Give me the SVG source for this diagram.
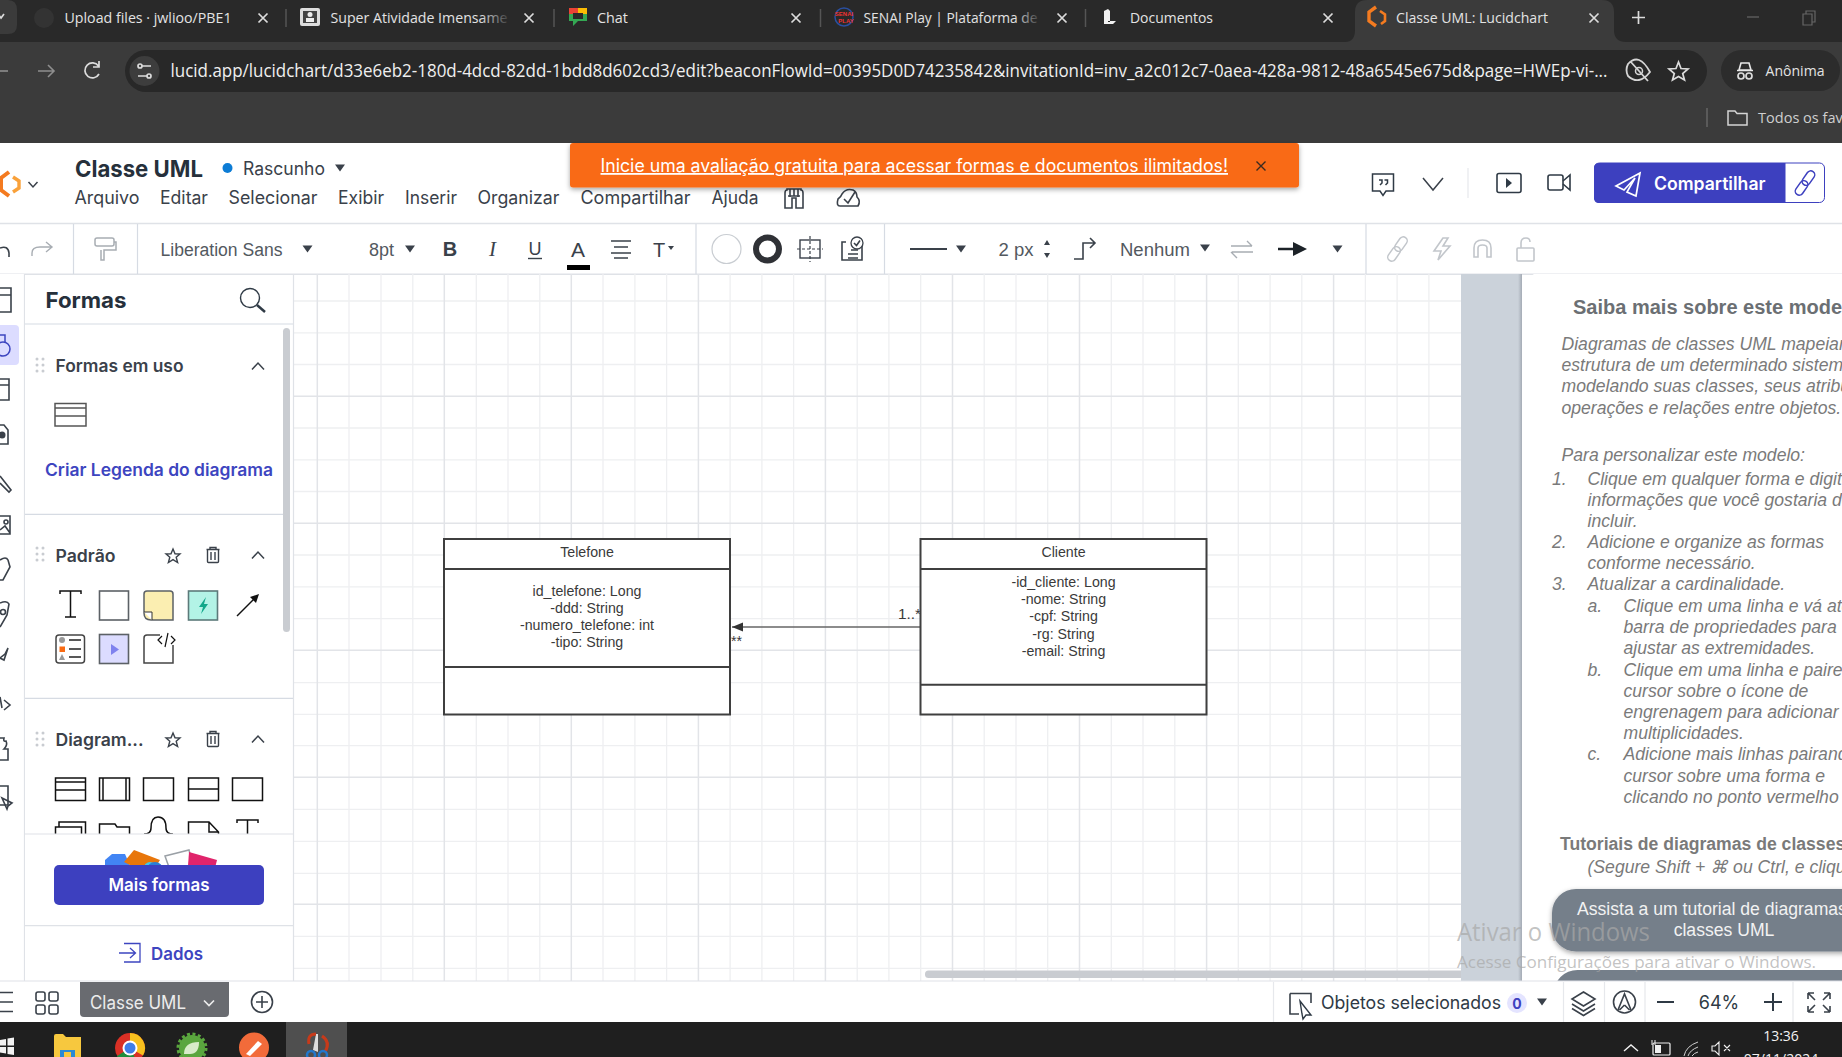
<svg xmlns="http://www.w3.org/2000/svg" width="1842" height="1057" viewBox="0 0 1842 1057">
<style>
.chrome{font-family:"Open Sans","Noto Sans",sans-serif;font-size:14.5px;fill:#e3e3e3}
.ui{font-family:"Inter","Lato",sans-serif;fill:#3a414a;font-size:17px}
.tb{font-family:"Liberation Sans",sans-serif;fill:#53595f;font-size:18px}
.b{font-weight:600}
.uml{font-family:"Liberation Sans",sans-serif;font-size:14.2px;fill:#3a3a3a;text-anchor:middle}
.box{fill:#fff;stroke:#3f3f3f;stroke-width:2}
.sep{stroke:#3f3f3f;stroke-width:2;fill:none}
.p{font-family:"Liberation Sans",sans-serif;font-size:17.6px;font-style:italic;fill:#7a7a7a}
.minor{stroke:#eeeff1;stroke-width:1.3}
.major{stroke:#e2e4e8;stroke-width:1.5}
.ic{fill:none;stroke:#3a414a;stroke-width:1.6}
.icd{fill:none;stroke:#c2c6cb;stroke-width:1.6}
.tri{fill:#3a414a}
.div{stroke:#d6dbe3;stroke-width:1.2}
.mono{fill:none;stroke:#111;stroke-width:1.5}
.x{fill:none;stroke:#dcdcdc;stroke-width:1.7}
</style>
<defs>
<marker id="arrow" markerUnits="userSpaceOnUse" markerWidth="12" markerHeight="10" refX="11" refY="4.5" orient="auto"><path d="M0 0L11 4.5L0 9z" fill="#333"/></marker>
<path id="xm" d="M-4.5-4.5L4.5 4.5M4.5-4.5L-4.5 4.5"/>
<path id="dn" d="M-5-3.5H5L0 3.5z"/>
<path id="chev" d="M-6 3.5L0-3L6 3.5" fill="none" stroke="#3a414a" stroke-width="1.5"/>
<g id="grip" fill="#c9ccd1"><circle cx="0" cy="0" r="1.5"/><circle cx="6" cy="0" r="1.5"/><circle cx="0" cy="6" r="1.5"/><circle cx="6" cy="6" r="1.5"/><circle cx="0" cy="12" r="1.5"/><circle cx="6" cy="12" r="1.5"/></g>
<path id="star" d="M0-7L2 -2.2L7-2L3.2 1.3L4.6 6.5L0 3.6L-4.6 6.5L-3.2 1.3L-7-2L-2-2.2z" fill="none" stroke="#3a414a" stroke-width="1.4"/>
<g id="trash" fill="none" stroke="#3a414a" stroke-width="1.4"><path d="M-6.5-5.5H6.5M-5.5-5.5V6.5Q-5.5 7.5-4.5 7.5H4.5Q5.5 7.5 5.5 6.5V-5.5M-3-5.5V-7.5H3V-5.5M-2-3V5M2-3V5"/></g>
<g id="link" fill="none"><rect x="-4" y="-14" width="8" height="16" rx="4"/><rect x="-4" y="-2" width="8" height="16" rx="4"/></g>
<linearGradient id="fade" gradientUnits="userSpaceOnUse" x1="480" x2="507" y1="0" y2="0"><stop offset="0" stop-color="#e3e3e3"/><stop offset="1" stop-color="#e3e3e3" stop-opacity=".15"/></linearGradient>
<linearGradient id="fade2" gradientUnits="userSpaceOnUse" x1="1015" x2="1038" y1="0" y2="0"><stop offset="0" stop-color="#e3e3e3"/><stop offset="1" stop-color="#e3e3e3" stop-opacity=".15"/></linearGradient>
<linearGradient id="edge" x1="0" x2="1" y1="0" y2="0"><stop offset="0" stop-color="#cbd2da"/><stop offset="1" stop-color="#a4abb5"/></linearGradient>
<clipPath id="shapes"><rect x="25" y="700" width="260" height="134"/></clipPath>
<clipPath id="more"><rect x="80" y="840" width="180" height="25"/></clipPath>
<clipPath id="canvasR"><rect x="1522" y="274" width="320" height="707"/></clipPath>
<filter id="sh" x="-5%" y="-20%" width="110%" height="150%"><feDropShadow dx="0" dy="2" stdDeviation="2.5" flood-color="#000" flood-opacity=".35"/></filter>
</defs>

<rect width="1842" height="1057" fill="#fff"/>

<g id="browser-chrome">
<rect width="1842" height="42" fill="#292929"/>
<rect y="42" width="1842" height="101" fill="#3b3b3b"/>
<path d="M0 0H8Q17 0 17 10V25Q17 34 8 34H0z" fill="#3b3b3b"/>
<path d="M-2 14L1 18L4 14" class="x"/>
<path d="M1345 42Q1355 42 1355 30V12Q1355 0 1367 0H1602Q1614 0 1614 12V30Q1614 42 1626 42z" fill="#3b3b3b"/>
<circle cx="44" cy="18" r="10" fill="#333"/>
<text class="chrome" x="64.5" y="23" textLength="167" lengthAdjust="spacingAndGlyphs">Upload files · jwlioo/PBE1</text>
<use href="#xm" x="263" y="18" class="x"/>
<line x1="286" x2="286" y1="9" y2="27" stroke="#555" stroke-width="1.5"/>
<rect x="300" y="8" width="20" height="18" rx="2" fill="#ddd"/><rect x="303" y="11" width="14" height="12" fill="#444"/><circle cx="310" cy="14.5" r="2.5" fill="#eee"/><rect x="306" y="18" width="8" height="4" fill="#eee"/>
<text class="chrome" x="330.5" y="23" textLength="177" lengthAdjust="spacingAndGlyphs" style="fill:url(#fade)">Super Atividade Imensame</text>
<use href="#xm" x="529" y="18" class="x"/>
<line x1="554" x2="554" y1="9" y2="27" stroke="#555" stroke-width="1.5"/>
<path d="M569 8H587V21H578L573 26V21H569z" fill="#34a853"/><rect x="569" y="8" width="9" height="6" fill="#ea4335"/><rect x="578" y="8" width="9" height="6" fill="#fbbc04"/><rect x="573" y="13" width="10" height="6" fill="#292929"/>
<text class="chrome" x="597" y="23" textLength="31" lengthAdjust="spacingAndGlyphs">Chat</text>
<use href="#xm" x="796" y="18" class="x"/>
<line x1="820.5" x2="820.5" y1="9" y2="27" stroke="#555" stroke-width="1.5"/>
<circle cx="844" cy="17" r="9" fill="none" stroke="#2a4fa0" stroke-width="1.5"/><text x="844" y="16" font-family="Liberation Sans,sans-serif" font-size="6" font-weight="700" fill="#e33" text-anchor="middle">SENAI</text><text x="846" y="23" font-family="Liberation Sans,sans-serif" font-size="6" font-weight="700" fill="#e33" text-anchor="middle">PLAY</text>
<text class="chrome" x="863.5" y="23" textLength="174" lengthAdjust="spacingAndGlyphs" style="fill:url(#fade2)">SENAI Play | Plataforma de</text>
<use href="#xm" x="1062" y="18" class="x"/>
<line x1="1085.5" x2="1085.5" y1="9" y2="27" stroke="#555" stroke-width="1.5"/>
<path d="M1104 11L1108 9V22H1110V11L1108 9V21H1116L1113 24H1104z" fill="#f1f1f1"/>
<text class="chrome" x="1130" y="23" textLength="83" lengthAdjust="spacingAndGlyphs">Documentos</text>
<use href="#xm" x="1328" y="18" class="x"/>
<path d="M1376 7L1369 12V21L1376 26" fill="none" stroke="#f47b20" stroke-width="3.4"/><path d="M1380 11L1385 14.500V21L1381 24" fill="none" stroke="#f47b20" stroke-width="2.600"/>
<text class="chrome" x="1396" y="23" textLength="152" lengthAdjust="spacingAndGlyphs">Classe UML: Lucidchart</text>
<use href="#xm" x="1594" y="18" class="x"/>
<path d="M1638.5 11V24M1632 17.5H1645" class="x"/>
<path d="M1747 17H1759" stroke="#666" stroke-width="1.2"/>
<path d="M1803 14V25H1812V14zM1806 14V11H1815V22H1812" fill="none" stroke="#666" stroke-width="1.2"/>

<path d="M8 71H-2M0 71" fill="none" stroke="#8e8e8e" stroke-width="1.6"/>
<path d="M38 71H54M48 65L54 71L48 77" fill="none" stroke="#8e8e8e" stroke-width="1.6"/>
<path d="M98.5 66A7.5 7.5 0 1 0 99 74M99 61V67H93" fill="none" stroke="#dcdcdc" stroke-width="1.7"/>
<rect x="125" y="50" width="1582" height="42" rx="21" fill="#282828"/>
<circle cx="144.500" cy="71" r="15" fill="#3d3d3d"/>
<path d="M142 66H151M138 76H147" stroke="#ddd" stroke-width="1.6"/><circle cx="140" cy="66" r="2" class="x"/><circle cx="149" cy="76" r="2" class="x"/>
<text x="170.500" y="77" font-family="Open Sans,Noto Sans,sans-serif" font-size="18" fill="#efefef" textLength="1437" lengthAdjust="spacingAndGlyphs">lucid.app/lucidchart/d33e6eb2-180d-4dcd-82dd-1bdd8d602cd3/edit?beaconFlowId=00395D0D74235842&amp;invitationId=inv_a2c012c7-0aea-428a-9812-48a6545e675d&amp;page=HWEp-vi-...</text>
<path d="M1628 64Q1639 52 1650 72Q1639 86 1628 76Q1625 70 1628 64zM1630 61L1648 81" fill="none" stroke="#d5d5d5" stroke-width="1.8"/><circle cx="1639" cy="71" r="3.500" fill="none" stroke="#d5d5d5" stroke-width="1.500"/>
<path d="M1678.500 62L1681 68.500L1688 69L1682.700 73.500L1684.500 80L1678.500 76.500L1672.500 80L1674.300 73.500L1669 69L1676 68.500z" fill="none" stroke="#dcdcdc" stroke-width="1.700"/>
<rect x="1721" y="50" width="119" height="41" rx="20.500" fill="#2c2c2c"/>
<path d="M1741 63H1749L1751 70H1739zM1737 70.500H1753" fill="none" stroke="#e8e8e8" stroke-width="1.600"/><circle cx="1741" cy="76" r="3" class="x"/><circle cx="1749" cy="76" r="3" class="x"/>
<text class="chrome" x="1765.500" y="75.500" textLength="59" lengthAdjust="spacingAndGlyphs">Anônima</text>
<line x1="1707" x2="1707" y1="108" y2="127" stroke="#666" stroke-width="1.500"/>
<path d="M1728 111H1735L1737 113.500H1747V125H1728z" fill="none" stroke="#d5d5d5" stroke-width="1.500"/>
<text class="chrome" x="1758" y="122.500" textLength="124" lengthAdjust="spacingAndGlyphs" style="fill:#cfcfcf">Todos os favoritos</text>
</g>

<g id="app-header">
<path d="M9 172L1 178V190L9 196" fill="none" stroke="#f47b20" stroke-width="4"/><path d="M13 177L19 181V188L13 192" fill="none" stroke="#f9a13a" stroke-width="3.400"/>
<path d="M28.500 182L33 187L37.500 182" fill="none" stroke="#3a414a" stroke-width="1.500"/>
<text class="ui" font-weight="700" x="75" y="177" style="font-size:23px;fill:#26303b" textLength="128" lengthAdjust="spacingAndGlyphs">Classe UML</text>
<circle cx="227.500" cy="168" r="5" fill="#0c7cd5"/>
<text class="ui" x="243" y="175" style="font-size:18px" textLength="82" lengthAdjust="spacingAndGlyphs">Rascunho</text>
<use href="#dn" x="340" y="168" class="tri"/>
<g class="ui" style="font-size:18px">
<text x="74.500" y="204" textLength="65" lengthAdjust="spacingAndGlyphs">Arquivo</text>
<text x="160" y="204" textLength="48" lengthAdjust="spacingAndGlyphs">Editar</text>
<text x="228.500" y="204" textLength="89" lengthAdjust="spacingAndGlyphs">Selecionar</text>
<text x="338" y="204" textLength="46" lengthAdjust="spacingAndGlyphs">Exibir</text>
<text x="405" y="204" textLength="52" lengthAdjust="spacingAndGlyphs">Inserir</text>
<text x="477.500" y="204" textLength="82" lengthAdjust="spacingAndGlyphs">Organizar</text>
<text x="580.500" y="204" textLength="110" lengthAdjust="spacingAndGlyphs">Compartilhar</text>
<text x="711.500" y="204" textLength="47" lengthAdjust="spacingAndGlyphs">Ajuda</text>
</g>
<path d="M785 208V193Q785 190 787 190V189H801V190Q803 190 803 193V208H796V198H792V208zM788 196H800M790 189V197M794 189V196M798 189V197" class="ic" stroke-width="1.300"/>
<path d="M840 206Q836 206 838 199Q841 197 842 194Q846 188 853 190Q857 192 857 197Q861 201 858 206zM844 199L848 203L855 192" class="ic"/>
<rect x="570" y="143" width="729" height="44.500" rx="3" fill="#f96b13" filter="url(#sh)"/>
<text x="600.500" y="172" font-family="Inter,Lato,sans-serif" font-size="18" fill="#fff" text-decoration="underline" textLength="627.500" lengthAdjust="spacingAndGlyphs">Inicie uma avaliação gratuita para acessar formas e documentos ilimitados!</text>
<use href="#xm" x="1261" y="166" style="fill:none;stroke:#3a2a20;stroke-width:1.400"/>
<path d="M1372.500 174H1393.500V191H1386L1383 195.500L1380 191H1372.500z" fill="none" stroke="#2f3a45" stroke-width="1.500"/>
<path d="M1379 180H1382V183L1380 185M1384.500 180H1387.500V183L1385.500 185" fill="none" stroke="#2f3a45" stroke-width="1.500"/>
<path d="M1423 178L1433 190L1443 178" fill="none" stroke="#3a414a" stroke-width="1.500"/>
<line x1="1468" x2="1468" y1="168" y2="198" stroke="#e6e8ec" stroke-width="1.200"/>
<rect x="1497" y="173.500" width="24" height="19" rx="2" fill="none" stroke="#2f3a45" stroke-width="1.600"/><path d="M1506 178L1512 183L1506 188z" fill="#2f3a45"/>
<rect x="1548" y="175" width="15" height="15" rx="2" fill="none" stroke="#2f3a45" stroke-width="1.600"/><path d="M1563 181L1570 175V190L1563 184" fill="none" stroke="#2f3a45" stroke-width="1.600"/>
<rect x="1594.500" y="163" width="230" height="39.500" rx="5" fill="#fff" stroke="#3d40bf"/>
<path d="M1785.500 163H1599Q1594 163 1594 168V198Q1594 203 1599 203H1785.500z" fill="#3d40bf"/>
<path d="M1640 173L1616 186L1624 190L1635 178L1627 192L1636 196z" fill="none" stroke="#fff" stroke-width="1.700"/>
<text x="1654" y="189.500" font-family="Inter,Lato,sans-serif" font-size="18" font-weight="600" fill="#fff" textLength="111.500" lengthAdjust="spacingAndGlyphs">Compartilhar</text>
<use href="#link" transform="translate(1805 183) rotate(35)" stroke="#3d40bf" stroke-width="1.500"/>
</g>

<g id="format-toolbar">
<line x1="0" x2="1842" y1="223.500" y2="223.500" stroke="#dfe2e7" stroke-width="1.500"/>
<line x1="0" x2="1842" y1="274.300" y2="274.300" stroke="#dfe2e7" stroke-width="1.500"/>
<line x1="73.500" x2="73.500" y1="224" y2="274" class="div"/>
<line x1="137.500" x2="137.500" y1="224" y2="274" class="div"/>
<line x1="696" x2="696" y1="224" y2="274" class="div"/>
<line x1="884.500" x2="884.500" y1="224" y2="274" class="div"/>
<line x1="1366" x2="1366" y1="224" y2="274" class="div"/>
<path d="M0 248Q8 245 9 253V257" class="ic" stroke-width="1.300"/>
<path d="M32 256V253Q32 247 40 247H51M46 242L52 247L46 252" fill="none" stroke="#a8adb3" stroke-width="1.400"/>
<rect x="95" y="238" width="19" height="8" rx="2" fill="none" stroke="#a8adb3" stroke-width="1.500"/><path d="M114 242H116V250H104V260H101V250" fill="none" stroke="#a8adb3" stroke-width="1.500"/>
<text class="tb" x="160.500" y="255.500" textLength="122" lengthAdjust="spacingAndGlyphs">Liberation Sans</text>
<use href="#dn" x="307.500" y="249" class="tri"/>
<text class="tb" x="369" y="255.500">8pt</text>
<use href="#dn" x="410" y="249" class="tri"/>
<text x="450" y="256" font-family="Liberation Sans,sans-serif" font-size="20" font-weight="700" fill="#3a414a" text-anchor="middle">B</text>
<text x="492.500" y="256" font-family="Liberation Serif,serif" font-size="21" font-style="italic" fill="#3a414a" text-anchor="middle">I</text>
<text x="535" y="255" font-family="Liberation Sans,sans-serif" font-size="18" fill="#3a414a" text-anchor="middle">U</text><line x1="528" x2="542" y1="258.500" y2="258.500" stroke="#3a414a" stroke-width="1.400"/>
<text x="578" y="257" font-family="Liberation Sans,sans-serif" font-size="21" fill="#3a414a" text-anchor="middle">A</text><rect x="567" y="265" width="23" height="5" fill="#000"/>
<path d="M611 241H631M614 247H628M611 253H631M614 258H628" class="ic" stroke-width="1.500"/>
<text x="659" y="257" font-family="Liberation Sans,sans-serif" font-size="20" fill="#3a414a" text-anchor="middle">T</text><path d="M668 246H674L671 250z" fill="#3a414a"/>
<circle cx="726.500" cy="249" r="14.500" fill="#fff" stroke="#c9cdd2" stroke-width="1.200"/>
<circle cx="767.500" cy="249" r="11.500" fill="#fff" stroke="#2f3136" stroke-width="6"/>
<rect x="800" y="240" width="20" height="18" fill="none" stroke="#3a414a" stroke-width="1.400"/><path d="M810 236V262M797 249H823" stroke="#3a414a" stroke-width="1.200" stroke-dasharray="3 2" fill="none"/>
<path d="M846 242H842V260H862V244M851 250H858M848 254H858M848 258H858" class="ic" stroke-width="1.400"/><circle cx="857" cy="243" r="6" fill="#fff" stroke="#3a414a" stroke-width="1.300"/><path d="M854 243L856.500 245.500L860 240.500" class="ic" stroke-width="1.200"/>
<line x1="910" x2="947" y1="249" y2="249" stroke="#3a414a" stroke-width="2"/>
<use href="#dn" x="961" y="249" class="tri"/>
<text class="tb" x="998.500" y="255.500" textLength="35" lengthAdjust="spacingAndGlyphs">2 px</text>
<path d="M1047 240L1050 245H1044zM1047 258L1050 253H1044z" fill="#3a414a"/>
<path d="M1074 259H1083V243H1094M1090 238L1095 243L1090 248" class="ic" stroke-width="1.500"/>
<text class="tb" x="1120" y="255.500" textLength="70" lengthAdjust="spacingAndGlyphs">Nenhum</text>
<use href="#dn" x="1205" y="248" class="tri"/>
<path d="M1231 246H1252M1247 241L1252 246M1253 252H1232M1237 258L1231 252" fill="none" stroke="#a8adb3" stroke-width="1.400"/>
<path d="M1278 249H1297" stroke="#1c2228" stroke-width="2.500"/><path d="M1293 242L1307 249L1293 256z" fill="#1c2228"/>
<use href="#dn" x="1337.500" y="249" class="tri"/>
<use href="#link" transform="translate(1397.500 249) rotate(35)" stroke="#c2c6cb" stroke-width="1.500"/>
<path d="M1443 238L1434 251H1441L1438 260L1450 246H1443L1448 238z" class="icd"/>
<path d="M1474 257V248Q1474 240 1482.500 240Q1491 240 1491 248V257H1487V248Q1487 245 1482.500 245Q1478 245 1478 248V257z" class="icd"/>
<rect x="1517" y="248" width="17" height="13" rx="1" class="icd"/><path d="M1521 248V243Q1521 238 1526 238Q1530 238 1530 242" class="icd"/>
</g>

<g id="canvas">
<g class="minor">
<path d="M349 274V981M381 274V981M412.800 274V981M476.300 274V981M508 274V981M539.800 274V981M603 274V981M634.900 274V981M666.600 274V981M730.100 274V981M761.900 274V981M793.600 274V981M857.200 274V981M888.900 274V981M920.700 274V981M984.200 274V981M1016 274V981M1047.700 274V981M1111.300 274V981M1143 274V981M1174.800 274V981M1238.300 274V981M1270.100 274V981M1301.800 274V981M1365.400 274V981M1397.100 274V981M1428.900 274V981"/>
<path d="M294 332.800H1461M294 364.500H1461M294 428H1461M294 459.800H1461M294 491.500H1461M294 555H1461M294 586.800H1461M294 618.600H1461M294 682.700H1461M294 714.300H1461M294 745.700H1461M294 809.300H1461M294 841.300H1461M294 873.300H1461M294 936.300H1461M294 968.300H1461M294 301H1461"/>
</g>
<g class="major">
<path d="M317.300 274V981M444.300 274V981M571.300 274V981M698.400 274V981M825.400 274V981M952.500 274V981M1079.500 274V981M1206.600 274V981M1333.600 274V981"/>
<path d="M294 396.200H1461M294 523.300H1461M294 650.300H1461M294 777.300H1461M294 904.300H1461"/>
</g>
<rect x="925" y="970.500" width="554" height="7.500" rx="3.500" fill="#c9ccd1"/>
</g>

<g id="connectors">
<line x1="920" y1="627" x2="732" y2="627" stroke="#666" stroke-width="1.600" marker-end="url(#arrow)"/>
<text class="uml" x="898" y="618.500" style="text-anchor:start" textLength="23" lengthAdjust="spacingAndGlyphs">1..*</text>
<text class="uml" x="731" y="646" style="text-anchor:start">**</text>
</g>

<g id="node-telefone">
<rect class="box" x="444" y="539" width="286" height="175.500"/>
<path class="sep" d="M444 569H730M444 667H730"/>
<text class="uml" x="587" y="557">Telefone</text>
<text class="uml" x="587" y="596">id_telefone: Long</text>
<text class="uml" x="587" y="613">-ddd: String</text>
<text class="uml" x="587" y="630">-numero_telefone: int</text>
<text class="uml" x="587" y="647">-tipo: String</text>
</g>
<g id="node-cliente">
<rect class="box" x="920.500" y="539" width="286" height="175.500"/>
<path class="sep" d="M920.500 569H1206.500M920.500 684.700H1206.500"/>
<text class="uml" x="1063.500" y="557">Cliente</text>
<text class="uml" x="1063.500" y="587">-id_cliente: Long</text>
<text class="uml" x="1063.500" y="604">-nome: String</text>
<text class="uml" x="1063.500" y="621">-cpf: String</text>
<text class="uml" x="1063.500" y="638.500">-rg: String</text>
<text class="uml" x="1063.500" y="655.500">-email: String</text>
</g>

<g id="left-rail">
<rect x="0" y="274" width="24.500" height="707" fill="#fff"/>
<line x1="24.500" x2="24.500" y1="274" y2="981" stroke="#dfe2e7" stroke-width="1.200"/>
<path d="M0 288H11V312H0M0 295H11" class="ic"/>
<rect x="-5" y="325" width="24" height="40" rx="4" fill="#dcdcff"/>
<circle cx="3" cy="349" r="7" fill="none" stroke="#3d45c0" stroke-width="1.500"/><path d="M0 335H5V342" fill="none" stroke="#3d45c0" stroke-width="1.500"/>
<path d="M0 379H9V400H0M0 385H9" class="ic"/>
<path d="M0 425H4L8 430V444H0" class="ic"/><circle cx="2" cy="435" r="3.500" fill="#3a414a"/>
<path d="M0 476L11 490L9 492L0 483" class="ic"/>
<path d="M0 516H10V534H0M0 530L5 526L10 533" class="ic"/><circle cx="6" cy="522" r="2" class="ic"/>
<path d="M0 560Q6 556 8 560L10 567L3 580H0" class="ic"/>
<path d="M0 603Q7 600 9 604L7 615L0 627" class="ic"/><circle cx="3" cy="612" r="2.500" class="ic"/>
<path d="M0 658L5 654L8 648L4 660z" class="ic"/>
<path d="M4 700L10 705L4 710M0 697L2 708" class="ic"/>
<path d="M0 738H4Q3 742 6 741Q8 745 4 749H8V760H0" class="ic"/>
<path d="M0 786H8V805H0" class="ic"/><path d="M2 798L12 803L8 806L7 809z" class="ic"/>
</g>

<g id="shapes-panel">
<rect x="25" y="275" width="268" height="706" fill="#fff"/>
<line x1="293.500" x2="293.500" y1="274" y2="981" stroke="#dfe2e7" stroke-width="1.200"/>
<text class="ui" font-weight="700" x="45.500" y="308" style="font-size:22px;fill:#26303b" textLength="81" lengthAdjust="spacingAndGlyphs">Formas</text>
<circle cx="250" cy="298" r="9.500" fill="none" stroke="#2f3a45" stroke-width="1.400"/><path d="M257 305L265 312" stroke="#2f3a45" stroke-width="2.500"/>
<line x1="25" x2="293" y1="324" y2="324" class="div"/>
<rect x="283" y="328" width="7" height="304" rx="3.500" fill="#c9ccd1"/>

<use href="#grip" x="37" y="359"/>
<text class="ui b" x="55.500" y="372" textLength="128" lengthAdjust="spacingAndGlyphs">Formas em uso</text>
<use href="#chev" x="258" y="366"/>
<g><rect x="55" y="403.500" width="31" height="22.500" fill="#fff" stroke="#555" stroke-width="1.500"/><path d="M55 408H86M55 416H86" stroke="#555" stroke-width="1.500"/></g>
<text class="ui b" x="45" y="476" style="fill:#3d45c0" textLength="228" lengthAdjust="spacingAndGlyphs">Criar Legenda do diagrama</text>
<line x1="25" x2="283" y1="514.300" y2="514.300" class="div"/>

<use href="#grip" x="37" y="548"/>
<text class="ui b" x="55.500" y="561.700" textLength="60" lengthAdjust="spacingAndGlyphs">Padrão</text>
<use href="#star" x="173" y="556"/>
<use href="#trash" x="213" y="555"/>
<use href="#chev" x="258" y="555"/>
<path d="M60 594V591H81V594M70.500 591V617M65 617H76" class="mono" stroke-width="1.400"/>
<rect x="99.500" y="591" width="29" height="29" fill="#fff" stroke="#5c6166" stroke-width="1.600"/>
<path d="M147 591H170Q173 591 173 594V620H151Q144 620 144 613V594Q144 591 147 591z" fill="#fbeeb1" stroke="#5c6166" stroke-width="1.500"/><path d="M144 612H152V620" fill="#fff" stroke="#333" stroke-width="1"/>
<rect x="188.500" y="591" width="29" height="29" fill="#b3f3e6" stroke="#5c7a7a" stroke-width="1.600"/><path d="M206 597L199 607H203L201 614L208 604H204z" fill="#12a88a"/>
<path d="M237 616L256 597" stroke="#111" stroke-width="1.400"/><path d="M259 594L250 597L256 603z" fill="#111"/>
<rect x="56" y="635" width="28.500" height="28" rx="3" fill="#fff" stroke="#444" stroke-width="1.500"/><circle cx="62" cy="640" r="3" fill="#999"/><rect x="59.500" y="646.500" width="5.500" height="5.500" fill="#f96b13"/><path d="M59 660L62 654L65 660z" fill="#999"/><path d="M69 640H81M69 649H81M69 657H81" stroke="#222" stroke-width="1.300"/>
<rect x="99.500" y="634.500" width="29" height="29" fill="#dcdcff" stroke="#5c6166" stroke-width="1.600"/><path d="M111 644L119 649.500L111 655z" fill="#7f82ee"/>
<path d="M160 635H147Q144 635 144 638V663H173V645" fill="none" stroke="#444" stroke-width="1.500"/><path d="M162 636L158 640L162 644M171 636L175 640L171 644M168 633L165 647" fill="none" stroke="#111" stroke-width="1.200"/>
<line x1="25" x2="293" y1="698.300" y2="698.300" class="div"/>

<use href="#grip" x="37" y="733"/>
<text class="ui b" x="55.500" y="746" textLength="88" lengthAdjust="spacingAndGlyphs">Diagram...</text>
<use href="#star" x="173" y="740"/>
<use href="#trash" x="213" y="739"/>
<use href="#chev" x="258" y="739"/>
<g clip-path="url(#shapes)">
<rect x="55.500" y="778" width="30" height="22.500" class="mono"/><path d="M55.500 782H85.500M55.500 790H85.500" class="mono"/>
<rect x="99.500" y="778" width="30" height="22.500" class="mono"/><path d="M103 778V800.500M126 778V800.500" class="mono"/>
<rect x="143.500" y="778" width="30" height="22.500" class="mono"/>
<rect x="188.500" y="778" width="30" height="22.500" class="mono"/><path d="M188.500 789H218.500" class="mono"/>
<rect x="232.500" y="778" width="30" height="22.500" class="mono"/>
<rect x="55.500" y="827" width="26" height="22" class="mono"/><path d="M59 827V822H85.500V845H81.500" class="mono"/>
<path d="M99.500 827V824H115L117 827H129.500V850H99.500z" class="mono"/>
<path d="M144 834Q151 834 151 828Q151 817 158 817Q166 817 166 828Q166 834 173 834" class="mono"/>
<path d="M188.500 850V822H209L218.500 832V850M209 822V832H218.500" class="mono"/>
<path d="M237 823V820H258V823M247.500 820V840" class="mono"/>
</g>
<line x1="25" x2="293" y1="834" y2="834" stroke="#dfe2e7" stroke-width="1.200"/>
<g clip-path="url(#more)">
<path d="M105 860L112 854L125 854L132 870H105z" fill="#4285f4"/>
<path d="M124 862L134 850L160 860L150 875z" fill="#e8760a"/>
<circle cx="150" cy="868" r="6" fill="#3fc7ea"/><circle cx="155" cy="870" r="8" fill="#2a7fd6"/>
<path d="M165 856L189 850L194 870H170z" fill="#fff" stroke="#9aa0a6" stroke-width="1.500"/>
<path d="M189 852L217 860L212 880H187z" fill="#e0246b"/>
</g>
<rect x="54" y="865" width="210" height="40" rx="5" fill="#3d40bf"/>
<text x="159" y="891" font-family="Inter,Lato,sans-serif" font-size="17" font-weight="600" fill="#fff" text-anchor="middle" textLength="101" lengthAdjust="spacingAndGlyphs">Mais formas</text>
<line x1="25" x2="293" y1="925.700" y2="925.700" stroke="#dfe2e7" stroke-width="1.200"/>
<path d="M124 943.500H140V962H124M119 953H135M130 948L135.500 953L130 958" fill="none" stroke="#3d45c0" stroke-width="1.300"/>
<text class="ui b" x="151" y="959.500" style="fill:#3d45c0" textLength="52" lengthAdjust="spacingAndGlyphs">Dados</text>
</g>

<g id="template-panel">
<rect x="1461" y="274" width="61" height="707" fill="#cbd2da"/>
<rect x="1518" y="274" width="4" height="707" fill="url(#edge)"/>
<path d="M1522 981V292Q1522 281 1534 274H1842V981z" fill="#fff"/>
<g clip-path="url(#canvasR)">
<text x="1573" y="314" font-family="Liberation Sans,sans-serif" font-size="20" font-weight="700" fill="#6b6f73">Saiba mais sobre este modelo</text>
<g class="p">
<text x="1561.500" y="350">Diagramas de classes UML mapeiam a</text>
<text x="1561.500" y="371">estrutura de um determinado sistema</text>
<text x="1561.500" y="392">modelando suas classes, seus atributos,</text>
<text x="1561.500" y="413.500">operações e relações entre objetos.</text>
<text x="1561.500" y="461">Para personalizar este modelo:</text>
<text x="1552" y="485">1.</text><text x="1587.500" y="485">Clique em qualquer forma e digite as</text>
<text x="1587.500" y="506">informações que você gostaria de</text>
<text x="1587.500" y="527">incluir.</text>
<text x="1552" y="548">2.</text><text x="1587.500" y="548">Adicione e organize as formas</text>
<text x="1587.500" y="569">conforme necessário.</text>
<text x="1552" y="590">3.</text><text x="1587.500" y="590">Atualizar a cardinalidade.</text>
<text x="1587.500" y="611.500">a.</text><text x="1623.500" y="611.500">Clique em uma linha e vá até a</text>
<text x="1623.500" y="632.500">barra de propriedades para</text>
<text x="1623.500" y="654">ajustar as extremidades.</text>
<text x="1587.500" y="675.500">b.</text><text x="1623.500" y="675.500">Clique em uma linha e paire o</text>
<text x="1623.500" y="697">cursor sobre o ícone de</text>
<text x="1623.500" y="718">engrenagem para adicionar</text>
<text x="1623.500" y="739">multiplicidades.</text>
<text x="1587.500" y="760">c.</text><text x="1623.500" y="760">Adicione mais linhas pairando o</text>
<text x="1623.500" y="781.500">cursor sobre uma forma e</text>
<text x="1623.500" y="802.500">clicando no ponto vermelho</text>
</g>
<text x="1560" y="850" font-family="Liberation Sans,sans-serif" font-size="17.600" font-weight="700" fill="#7a7a7a">Tutoriais de diagramas de classes UML</text>
<text class="p" x="1587.500" y="873">(Segure Shift + ⌘ ou Ctrl, e clique</text>
<rect x="1552" y="889" width="360" height="62.500" rx="24" fill="#757f8a" filter="url(#sh)"/>
<text x="1577" y="915" font-family="Liberation Sans,sans-serif" font-size="17.600" fill="#f2f2f2">Assista a um tutorial de diagramas de</text>
<text x="1724" y="936" font-family="Liberation Sans,sans-serif" font-size="17.600" fill="#f2f2f2" text-anchor="middle">classes UML</text>
<rect x="1553.500" y="970" width="360" height="62" rx="24" fill="#757f8a"/>
</g>
<text x="1457" y="941" font-family="Open Sans,Noto Sans,sans-serif" font-size="26" fill="#a8a8a8" fill-opacity=".7" textLength="193" lengthAdjust="spacingAndGlyphs">Ativar o Windows</text>
<text x="1457" y="968" font-family="Open Sans,Noto Sans,sans-serif" font-size="16" fill="#a8a8a8" fill-opacity=".7" textLength="359" lengthAdjust="spacingAndGlyphs">Acesse Configurações para ativar o Windows.</text>
</g>

<g id="status-bar">
<rect y="981" width="1842" height="41" fill="#fff"/>
<line x1="0" x2="1842" y1="981" y2="981" stroke="#dfe2e7" stroke-width="1.200"/>
<path d="M0 992.500H13M0 1002H13M0 1011.500H13" class="ic"/>
<rect x="36" y="992" width="9" height="9" rx="2" class="ic"/><rect x="49" y="992" width="9" height="9" rx="2" class="ic"/><rect x="36" y="1005" width="9" height="9" rx="2" class="ic"/><rect x="49" y="1005" width="9" height="9" rx="2" class="ic"/>
<path d="M80 982H229V1013Q229 1017 225 1017H84Q80 1017 80 1013z" fill="#696b70"/>
<text x="90" y="1009" font-family="Inter,Lato,sans-serif" font-size="18" fill="#ececec" textLength="96" lengthAdjust="spacingAndGlyphs">Classe UML</text>
<path d="M204 1000.500L209 1005.500L214 1000.500" fill="none" stroke="#ececec" stroke-width="1.700"/>
<circle cx="262" cy="1002" r="10.500" class="ic"/><path d="M262 996V1008M256 1002H268" class="ic"/>
<path d="M1273.500 982V1022M1563.500 982V1022M1604.500 982V1022M1645 982V1022M1793 982V1022" stroke="#e6e8ec" stroke-width="1.200"/>
<path d="M1290 993.500H1311V1003M1290 993.500V1014H1299" class="ic"/>
<path d="M1300 1001L1311 1015L1306 1015L1303 1019L1302 1014z" fill="#fff" stroke="#2f3a45" stroke-width="1.400"/>
<text x="1321" y="1009" font-family="Inter,Lato,sans-serif" font-size="18" fill="#2f3a45" textLength="180" lengthAdjust="spacingAndGlyphs">Objetos selecionados</text>
<circle cx="1517" cy="1003" r="10" fill="#e4e4ff"/><text x="1517" y="1008.500" font-family="Inter,Lato,sans-serif" font-size="14" font-weight="700" fill="#3d40bf" text-anchor="middle">0</text>
<use href="#dn" x="1542" y="1002" class="tri"/>
<path d="M1583.500 992L1595 999L1583.500 1006L1572 999zM1572 1004L1583.500 1011L1595 1004M1572 1008.500L1583.500 1015.500L1595 1008.500" class="ic" stroke-width="1.400"/>
<circle cx="1624.500" cy="1002" r="11" class="ic"/><path d="M1618 1010L1624.500 994L1631 1010M1624.500 1005L1619.500 1010M1624.500 1005L1629.500 1010" class="ic" stroke-width="1.300"/>
<path d="M1657 1002H1674" stroke="#2f3a45" stroke-width="2"/>
<text x="1719" y="1009" font-family="Inter,Lato,sans-serif" font-size="18" fill="#2f3a45" text-anchor="middle">64%</text>
<path d="M1773 993V1011M1764 1002H1782" stroke="#2f3a45" stroke-width="2"/>
<path d="M1808 993H1814M1808 993V999M1808 993L1815 1000M1830 993H1824M1830 993V999M1830 993L1823 1000M1808 1012H1814M1808 1012V1006M1808 1012L1815 1005M1830 1012H1824M1830 1012V1006M1830 1012L1823 1005" class="ic" stroke-width="1.300"/>
</g>

<g id="taskbar">
<rect y="1022" width="1842" height="35" fill="#1f1f1f"/>
<path d="M0 1040L6 1039V1045.500H0zM7.500 1038.500L14 1037.500V1045.500H7.500zM0 1047H6V1053.500L0 1052.500zM7.500 1047H14V1055L7.500 1054z" fill="#f2f2f2"/>
<rect x="286" y="1022" width="61" height="35" fill="#4f4f4f"/>
<path d="M54 1036Q54 1034 56 1034H63L66 1037H81V1057H54z" fill="#f7c83e"/><rect x="60" y="1050" width="15" height="7" fill="#2a8ad4"/><rect x="64" y="1052" width="7" height="5" fill="#f7c83e"/>
<circle cx="130" cy="1048" r="15" fill="#d93025"/><path d="M130 1048L117 1056A15 15 0 0 0 137 1061.500z" fill="#1e8e3e"/><path d="M130 1033A15 15 0 0 1 143 1055.500L130 1048z" fill="#f7c01e"/><circle cx="130" cy="1048" r="7.500" fill="#fff"/><circle cx="130" cy="1048" r="5.500" fill="#3f7ee8"/>
<circle cx="192" cy="1048" r="13" fill="#5aa63e"/><circle cx="192" cy="1048" r="14" fill="none" stroke="#5aa63e" stroke-width="3" stroke-dasharray="3 2.500"/><path d="M184 1054Q184 1042 199 1042Q199 1054 190 1054z" fill="#d8ecc9"/>
<circle cx="254" cy="1047.500" r="15" fill="#f26b3a"/><path d="M246 1054L258 1041L262 1044L250 1056z" fill="#fff"/>
<path d="M318 1034V1052L313 1050L316 1034z" fill="#ddd"/><path d="M309 1044Q307 1034 316 1034" fill="none" stroke="#c73a1a" stroke-width="3"/><path d="M322 1036Q331 1042 325 1052" fill="none" stroke="#c73a1a" stroke-width="3"/><circle cx="311" cy="1055" r="4" fill="none" stroke="#2277cc" stroke-width="2.500"/><circle cx="323" cy="1055" r="4" fill="none" stroke="#2277cc" stroke-width="2.500"/>
<path d="M1624 1051L1631 1045L1638 1051" fill="none" stroke="#f0f0f0" stroke-width="1.400"/>
<rect x="1653" y="1043" width="17" height="12" rx="1" fill="none" stroke="#f0f0f0" stroke-width="1.200"/><rect x="1655" y="1045" width="6" height="8" fill="#f0f0f0"/><path d="M1652 1040V1045M1655 1040V1045" stroke="#f0f0f0"/>
<path d="M1684 1056Q1686 1046 1698 1042M1688 1056Q1690 1050 1698 1047M1692 1056Q1694 1053 1698 1052" fill="none" stroke="#d0d0d0" stroke-width="1"/>
<path d="M1712 1046H1715L1719 1042V1055L1715 1051H1712zM1724 1045L1730 1051M1730 1045L1724 1051" fill="none" stroke="#f0f0f0" stroke-width="1.100"/>
<text x="1781" y="1041" font-family="Open Sans,Noto Sans,sans-serif" font-size="14" fill="#f2f2f2" text-anchor="middle">13:36</text>
<text x="1781" y="1063.500" font-family="Open Sans,Noto Sans,sans-serif" font-size="14" fill="#f2f2f2" text-anchor="middle">07/11/2024</text>
</g>
</svg>
